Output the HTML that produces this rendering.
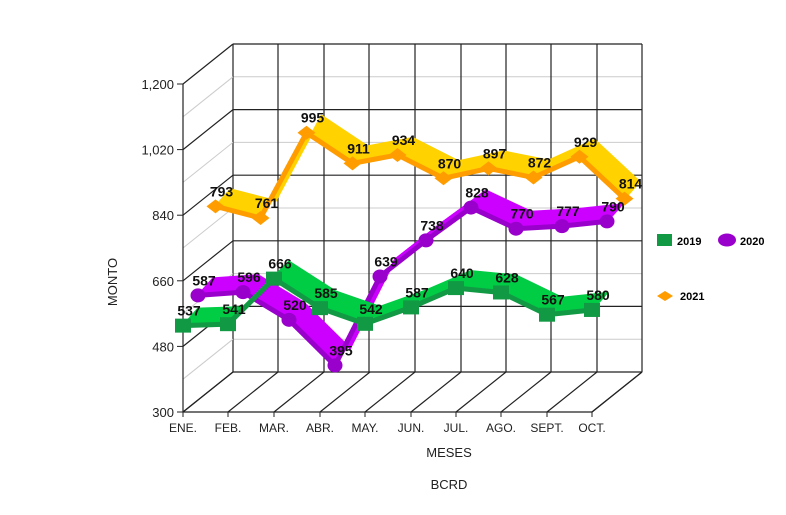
<!DOCTYPE html>
<html><head><meta charset="utf-8"><style>
html,body{margin:0;padding:0;background:#fff;width:786px;height:515px;overflow:hidden}
svg{display:block;font-family:"Liberation Sans",Arial,sans-serif}
</style></head><body>
<svg id="s" width="786" height="515" viewBox="0 0 786 515" xmlns="http://www.w3.org/2000/svg"></svg>
<script>
const s=document.getElementById('s');let h='';
const X0=183,Y0=412,PX=65.6/180,DX=50,DY=-40;
const xs=[183,228,274,320,365,411,456,501,547,592];
function fy(v){return Y0-(v-300)*PX;}
for(let i=0;i<5;i++){const y=fy(300+i*180)-40-32.8;h+=`<line x1="233" y1="${y}" x2="642" y2="${y}" stroke="#ccc" stroke-width="1"/>`;}
for(let i=0;i<6;i++){const y=fy(300+i*180)-40;h+=`<line x1="233" y1="${y}" x2="642" y2="${y}" stroke="#222" stroke-width="1.2"/>`;}
[233,278,324,369,415,461,506,551,597,642].forEach(x=>{h+=`<line x1="${x}" y1="44" x2="${x}" y2="372" stroke="#222" stroke-width="1.2"/>`;});
for(let i=0;i<6;i++){const y=fy(300+i*180);h+=`<line x1="183" y1="${y}" x2="233" y2="${y-40}" stroke="#222" stroke-width="1.2"/>`;
 if(i<5){const y2=y-32.8;h+=`<line x1="183" y1="${y2}" x2="233" y2="${y2-40}" stroke="#ccc" stroke-width="1"/>`;}}
h+=`<line x1="183" y1="84" x2="183" y2="412" stroke="#222" stroke-width="1.2"/>`;
xs.forEach(x=>{h+=`<line x1="${x}" y1="412" x2="${x+50}" y2="372" stroke="#222" stroke-width="1.2"/>`;h+=`<line x1="${x}" y1="412" x2="${x}" y2="417" stroke="#222"/>`;});
h+=`<line x1="183" y1="412" x2="592" y2="412" stroke="#222" stroke-width="1.2"/><line x1="592" y1="412" x2="642" y2="372" stroke="#222" stroke-width="1.2"/>`;
['300','480','660','840','1,020','1,200'].forEach((t,i)=>{const y=fy(300+i*180);h+=`<line x1="177" y1="${y}" x2="183" y2="${y}" stroke="#222"/><text x="174" y="${y+5}" font-size="13" text-anchor="end" fill="#222">${t}</text>`;});
['ENE.','FEB.','MAR.','ABR.','MAY.','JUN.','JUL.','AGO.','SEPT.','OCT.'].forEach((t,i)=>{h+=`<text x="${xs[i]}" y="432" font-size="12" text-anchor="middle" fill="#222">${t}</text>`;});
const ser=[
 {d:0.65,v:[793,761,995,911,934,870,897,872,929,814],rib:'#ffd200',line:'#ff9c00',m:'dia'},
 {d:0.3,v:[587,596,520,395,639,738,828,770,777,790],rib:'#cc00ff',line:'#9900cc',m:'cir'},
 {d:0,v:[537,541,666,585,542,587,640,628,567,580],rib:'#00cc44',line:'#119944',m:'sq'}];
ser.forEach(S=>{
 const p=S.v.map((v,i)=>[xs[i]+S.d*DX,fy(v)+S.d*DY]);
 const q=p.map(a=>[a[0]+15,a[1]-17]);
 let poly=p.map(a=>a.join(',')).join(' ')+' '+q.slice().reverse().map(a=>a.join(',')).join(' ');
 h+=`<polygon points="${poly}" fill="${S.rib}" stroke="${S.rib}" stroke-width="2" stroke-linejoin="round"/>`;
 h+=`<polyline points="${p.map(a=>a.join(',')).join(' ')}" fill="none" stroke="${S.line}" stroke-width="5"/>`;
 p.forEach((a,i)=>{const [x,y]=a;
  if(S.m=='sq')h+=`<rect x="${x-8}" y="${y-7}" width="16" height="14" fill="${S.line}"/>`;
  else if(S.m=='cir')h+=`<ellipse cx="${x}" cy="${y}" rx="7.5" ry="7" fill="${S.line}"/>`;
  else h+=`<polygon points="${x-9},${y} ${x},${y-7} ${x+9},${y} ${x},${y+7}" fill="${S.line}"/>`;
  h+=`<text x="${x+6}" y="${y-10}" font-size="14" font-weight="bold" text-anchor="middle" fill="#111">${S.v[i]}</text>`;});
});
h+=`<rect x="657" y="234" width="15" height="12" fill="#119944"/><text x="677" y="245" font-size="11" font-weight="bold">2019</text>`;
h+=`<ellipse cx="727" cy="240" rx="9" ry="6.5" fill="#9900cc"/><text x="740" y="245" font-size="11" font-weight="bold">2020</text>`;
h+=`<polygon points="657,296 665,291 673,296 665,301" fill="#ff9c00"/><text x="680" y="300" font-size="11" font-weight="bold">2021</text>`;
h+=`<text x="449" y="457" font-size="13" text-anchor="middle" fill="#222">MESES</text>`;
h+=`<text x="449" y="489" font-size="13" text-anchor="middle" fill="#222">BCRD</text>`;
h+=`<text transform="translate(117,282) rotate(-90)" font-size="13" text-anchor="middle" fill="#222">MONTO</text>`;
s.innerHTML=h;
</script>
</body></html>
